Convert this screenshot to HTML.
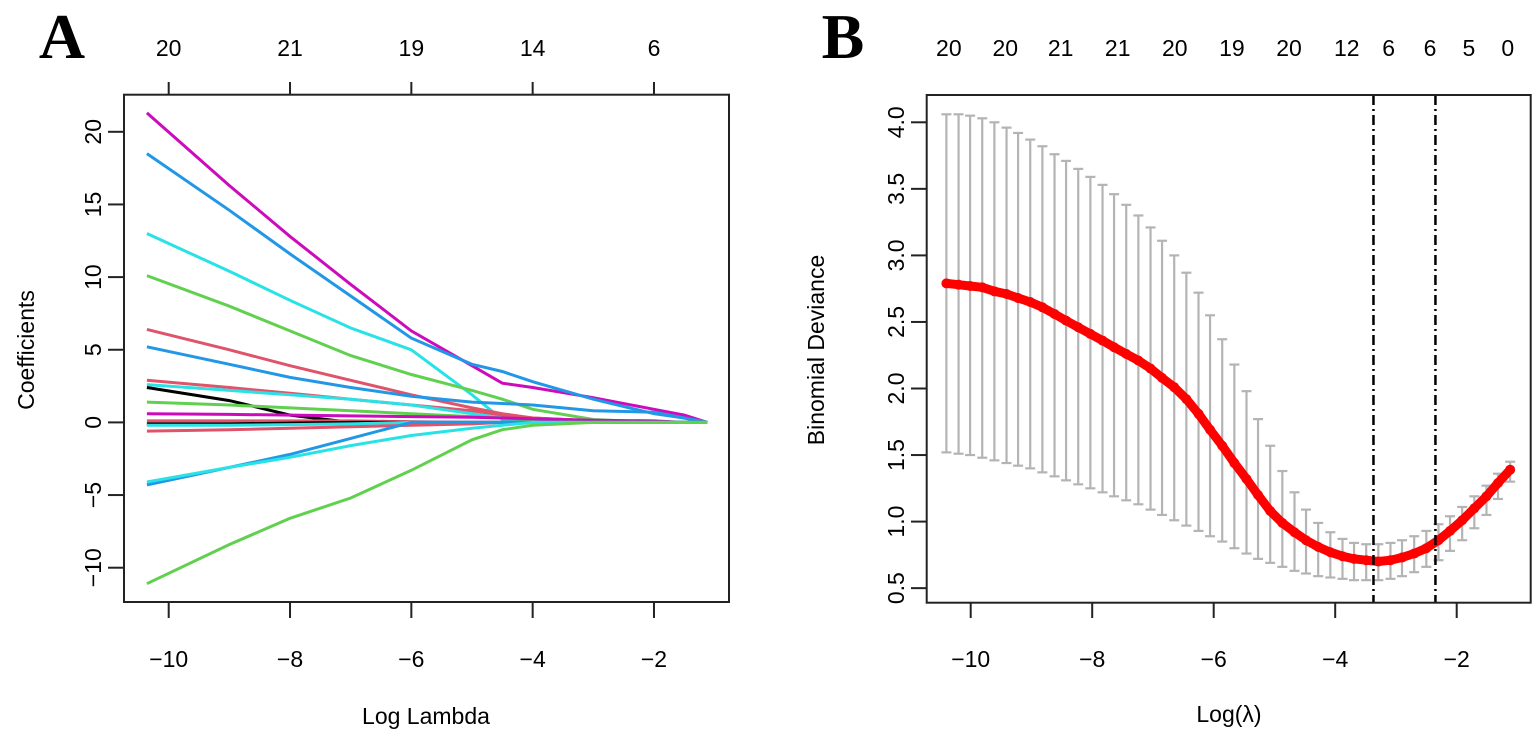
<!DOCTYPE html>
<html><head><meta charset="utf-8"><style>
body{margin:0;background:#fff}
svg{display:block;font-family:"Liberation Sans",sans-serif}
</style></head><body>
<svg id="c" width="1535" height="733" xmlns="http://www.w3.org/2000/svg">
<text x="62" y="58" text-anchor="middle" font-family="Liberation Serif,serif" font-weight="bold" font-size="64">A</text>
<text x="843" y="58" text-anchor="middle" font-family="Liberation Serif,serif" font-weight="bold" font-size="64">B</text>
<g id="pa"></g>
<g id="pb"></g>
</svg>
<script>
// Panel A data
const knotsA = [-10.36,-9,-8,-7,-6,-5,-4.5,-4,-3,-2,-1.5,-1.12];
const colorsA = ["#CD0BBC","#2297E6","#28E2E5","#61D04F","#DF536B","#2297E6","#DF536B","#28E2E5","#000000","#61D04F","#CD0BBC","#DF536B","#000000","#28E2E5","#DF536B","#2297E6","#28E2E5","#61D04F"];
const coefA = [
 [21.3,16.3,12.8,9.5,6.3,3.9,2.7,2.4,1.7,0.9,0.5,0],
 [18.5,14.6,11.6,8.7,5.8,4.0,3.5,2.8,1.6,0.6,0.3,0],
 [13,10.4,8.4,6.5,5.0,1.9,0.2,0,0,0,0,0],
 [10.1,8.0,6.3,4.6,3.3,2.2,1.6,0.9,0.2,0,0,0],
 [6.4,5.0,3.9,2.9,1.9,1.0,0.6,0.3,0.1,0,0,0],
 [5.2,4.0,3.1,2.4,1.8,1.4,1.3,1.2,0.8,0.7,0.3,0],
 [2.9,2.4,2.0,1.6,1.2,0.8,0.5,0.3,0.1,0,0,0],
 [2.6,2.2,1.9,1.6,1.2,0.6,0.3,0.1,0,0,0,0],
 [2.4,1.5,0.5,0,0,0,0,0,0,0,0,0],
 [1.4,1.2,1.0,0.8,0.6,0.4,0.3,0.2,0.1,0,0,0],
 [0.6,0.55,0.5,0.45,0.4,0.35,0.3,0.25,0.15,0.1,0,0],
 [0.1,0.1,0.1,0.1,0.05,0,0,0,0,0,0,0],
 [-0.1,-0.1,-0.05,0,0,0,0,0,0,0,0,0],
 [-0.2,-0.2,-0.15,-0.1,0,0,0,0,0,0,0,0],
 [-0.6,-0.5,-0.4,-0.3,-0.2,-0.1,0,0,0,0,0,0],
 [-4.3,-3.1,-2.2,-1.1,0,0,0,0,0,0,0,0],
 [-4.1,-3.1,-2.4,-1.6,-0.9,-0.4,-0.2,0,0,0,0,0],
 [-11.1,-8.4,-6.6,-5.2,-3.3,-1.2,-0.5,-0.2,0,0,0,0]
];
const xTicksA = [-10,-8,-6,-4,-2];
const yTicksA = [-10,-5,0,5,10,15,20];
const topLabelsA = ["20","21","19","14","6"];
// Panel B data
const logLamB = [-10.4,-10.2,-10.01,-9.81,-9.61,-9.41,-9.22,-9.02,-8.82,-8.62,-8.43,-8.23,-8.03,-7.83,-7.64,-7.44,-7.24,-7.04,-6.85,-6.65,-6.45,-6.25,-6.06,-5.86,-5.66,-5.46,-5.27,-5.07,-4.87,-4.67,-4.48,-4.28,-4.08,-3.88,-3.69,-3.49,-3.29,-3.09,-2.9,-2.7,-2.5,-2.3,-2.11,-1.91,-1.71,-1.51,-1.32,-1.12];
const meanB = [2.79,2.78,2.77,2.76,2.73,2.71,2.68,2.65,2.61,2.56,2.51,2.46,2.41,2.36,2.31,2.26,2.21,2.15,2.08,2.01,1.92,1.81,1.69,1.57,1.44,1.32,1.2,1.08,0.99,0.92,0.86,0.81,0.77,0.74,0.72,0.71,0.70,0.71,0.73,0.76,0.80,0.86,0.93,1.01,1.10,1.19,1.29,1.39];
const upperB = [4.06,4.06,4.05,4.03,4.0,3.96,3.92,3.87,3.82,3.76,3.71,3.65,3.59,3.53,3.46,3.38,3.3,3.21,3.11,3.0,2.87,2.72,2.55,2.37,2.18,1.98,1.77,1.57,1.38,1.22,1.09,0.99,0.92,0.87,0.84,0.83,0.83,0.84,0.86,0.89,0.93,0.98,1.04,1.11,1.19,1.27,1.36,1.45];
const lowerB = [1.52,1.51,1.50,1.48,1.46,1.44,1.42,1.40,1.37,1.34,1.31,1.28,1.25,1.22,1.19,1.16,1.13,1.09,1.05,1.01,0.97,0.93,0.89,0.85,0.80,0.76,0.72,0.69,0.66,0.63,0.61,0.59,0.58,0.57,0.56,0.56,0.56,0.57,0.59,0.62,0.66,0.71,0.78,0.86,0.95,1.05,1.17,1.30];
const vlinesB = [-3.37,-2.35];
const xTicksB = [-10,-8,-6,-4,-2];
const yTicksB = [0.5,1.0,1.5,2.0,2.5,3.0,3.5,4.0];
const topPosB = [-10.36,-9.43,-8.52,-7.58,-6.64,-5.7,-4.76,-3.81,-3.12,-2.44,-1.8,-1.16];
const topLabelsB = ["20","20","21","21","20","19","20","12","6","6","5","0"];

const NS="http://www.w3.org/2000/svg";
function mk(parent,tag,attrs,text){const e=document.createElementNS(NS,tag);for(const k in attrs)e.setAttribute(k,attrs[k]);if(text!==undefined)e.textContent=text;parent.appendChild(e);return e;}

// Panel A
const pa=document.getElementById('pa');
const xA=v=>168.7+(v+10)*60.66;
const yA=v=>422.4-v*14.53;
coefA.forEach((s,i)=>{
  const d=s.map((v,j)=>(j?'L':'M')+xA(knotsA[j]).toFixed(1)+' '+yA(v).toFixed(1)).join(' ');
  const p=mk(pa,'path',{d:d,fill:'none',stroke:colorsA[i],'stroke-width':3});
  
  
});
const boxA=mk(pa,'rect',{x:124,y:94.7,width:605,height:507.3,fill:'none',stroke:'#222','stroke-width':2});


xTicksA.forEach((t,i)=>{
  mk(pa,'line',{x1:xA(t),x2:xA(t),y1:602,y2:618,stroke:'#222','stroke-width':2});
  const tl=mk(pa,'text',{x:xA(t),y:667,'text-anchor':'middle','font-size':23},'\u2212'+Math.abs(t));
  
  
  mk(pa,'line',{x1:xA(t),x2:xA(t),y1:94.7,y2:82,stroke:'#222','stroke-width':2});
  const tt=mk(pa,'text',{x:xA(t),y:56,'text-anchor':'middle','font-size':23},topLabelsA[i]);
  
  
});
yTicksA.forEach(t=>{
  mk(pa,'line',{x1:124,x2:108,y1:yA(t),y2:yA(t),stroke:'#222','stroke-width':2});
  const tl=mk(pa,'text',{x:0,y:0,'text-anchor':'middle','font-size':23,transform:`translate(101 ${yA(t)}) rotate(-90)`},t<0?'\u2212'+Math.abs(t):String(t));
  
  
});
const xta=mk(pa,'text',{x:426,y:724,'text-anchor':'middle','font-size':23},'Log Lambda');


const yta=mk(pa,'text',{x:0,y:0,'text-anchor':'middle','font-size':23,transform:'translate(34 350) rotate(-90)'},'Coefficients');



// Panel B
const pb=document.getElementById('pb');
const xB=v=>970.7+(v+10)*60.75;
const yB=v=>122.3+(4-v)*133.1;
logLamB.forEach((l,i)=>{
  const x=xB(l);
  const g=mk(pb,'g',{stroke:'#b4b4b4','stroke-width':2.2});
  
  
  mk(g,'line',{x1:x,x2:x,y1:yB(upperB[i]),y2:yB(lowerB[i])});
  mk(g,'line',{x1:x-5,x2:x+5,y1:yB(upperB[i]),y2:yB(upperB[i])});
  mk(g,'line',{x1:x-5,x2:x+5,y1:yB(lowerB[i]),y2:yB(lowerB[i])});
});
const dpath=meanB.map((v,i)=>(i?'L':'M')+xB(logLamB[i]).toFixed(1)+' '+yB(v).toFixed(1)).join(' ');
const ml=mk(pb,'path',{d:dpath,fill:'none',stroke:'#ff0000','stroke-width':9,'stroke-linecap':'round','stroke-linejoin':'round'});


meanB.forEach((v,i)=>{
  const c=mk(pb,'circle',{cx:xB(logLamB[i]),cy:yB(v),r:5,fill:'#ff0000'});
  
  
});
vlinesB.forEach(v=>{
  const l=mk(pb,'line',{x1:xB(v),x2:xB(v),y1:95,y2:602.7,stroke:'#000','stroke-width':2.5,'stroke-dasharray':'10 4 2 4'});
  
  
});
const boxB=mk(pb,'rect',{x:926.7,y:95,width:604,height:507.7,fill:'none',stroke:'#222','stroke-width':2});


xTicksB.forEach(t=>{
  mk(pb,'line',{x1:xB(t),x2:xB(t),y1:602.7,y2:618,stroke:'#222','stroke-width':2});
  const tl=mk(pb,'text',{x:xB(t),y:667,'text-anchor':'middle','font-size':23},'\u2212'+Math.abs(t));
  
  
});
topPosB.forEach((p,i)=>{
  const tt=mk(pb,'text',{x:xB(p),y:56,'text-anchor':'middle','font-size':23},topLabelsB[i]);
  
  
});
yTicksB.forEach(t=>{
  mk(pb,'line',{x1:926.7,x2:911,y1:yB(t),y2:yB(t),stroke:'#222','stroke-width':2});
  const tl=mk(pb,'text',{x:0,y:0,'text-anchor':'middle','font-size':23,transform:`translate(904 ${yB(t)}) rotate(-90)`},t.toFixed(1));
  
  
});
const xtb=mk(pb,'text',{x:1229,y:722,'text-anchor':'middle','font-size':23},'Log(\u03bb)');


const ytb=mk(pb,'text',{x:0,y:0,'text-anchor':'middle','font-size':23,transform:'translate(824 350) rotate(-90)'},'Binomial Deviance');


</script>
</body></html>
